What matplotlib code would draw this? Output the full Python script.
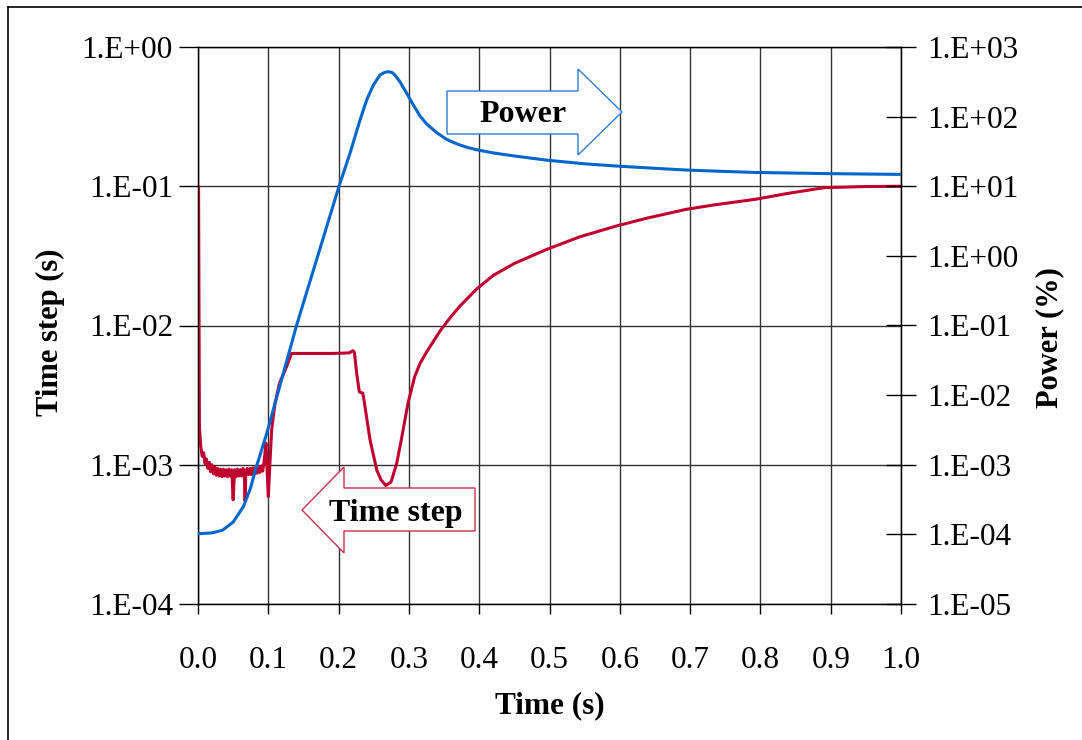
import matplotlib
matplotlib.use("Agg")
import matplotlib.pyplot as plt
from matplotlib.patches import Polygon
from matplotlib.lines import Line2D
from matplotlib.ticker import FixedLocator, FixedFormatter, NullLocator

plt.rcParams['font.family'] = ['Liberation Serif', 'DejaVu Serif']

# ---------------- data ----------------
# Time step (left axis, s)
dt_time = [0.0, 0.0008, 0.002, 0.004, 0.006, 0.008, 0.010, 0.012, 0.014, 0.016,
           0.018, 0.020, 0.022, 0.024, 0.026, 0.028, 0.030, 0.032, 0.034, 0.036,
           0.038, 0.040, 0.042, 0.044, 0.046, 0.048, 0.050, 0.052, 0.054, 0.056,
           0.058, 0.060, 0.062, 0.064, 0.066, 0.067, 0.068, 0.070, 0.072, 0.074,
           0.076, 0.078, 0.080, 0.082, 0.084, 0.086, 0.088, 0.090, 0.092, 0.094,
           0.0967, 0.098, 0.100, 0.1024, 0.1048, 0.1095, 0.116, 0.126, 0.133, 0.160,
           0.190, 0.215, 0.2205, 0.2225, 0.2257, 0.2295, 0.2343, 0.2361, 0.2447, 0.2542,
           0.2603, 0.267, 0.2745, 0.2826, 0.2892, 0.2987, 0.3082, 0.316, 0.3253, 0.3442,
           0.3585, 0.3727, 0.396, 0.420, 0.450, 0.496, 0.5434, 0.5956, 0.638, 0.694,
           0.733, 0.792, 0.840, 0.891, 0.950, 1.0]
dt_value = [1.0e-1, 1.0e-1, 1.86e-3, 1.35e-3, 1.15e-3, 1.22e-3, 1.02e-3, 1.1e-3, 9.4e-4, 1.04e-3,
            8.9e-4, 1.0e-3, 8.6e-4, 9.6e-4, 8.4e-4, 9.4e-4, 8.3e-4, 9.3e-4, 8.2e-4, 9.3e-4,
            8.3e-4, 9.2e-4, 8.2e-4, 9.3e-4, 8.3e-4, 9.2e-4, 5.6e-4, 9.2e-4, 8.2e-4, 9.3e-4,
            8.3e-4, 9.2e-4, 8.3e-4, 9.4e-4, 8.4e-4, 5.5e-4, 8.6e-4, 9.4e-4, 8.5e-4, 9.4e-4,
            8.5e-4, 9.5e-4, 8.6e-4, 9.6e-4, 8.7e-4, 9.7e-4, 8.8e-4, 9.8e-4, 9.0e-4, 1.05e-3,
            1.43e-3, 1.0e-3, 5.9e-4, 1.05e-3, 1.78e-3, 2.75e-3, 3.85e-3, 5.06e-3, 6.3e-3, 6.3e-3,
            6.3e-3, 6.35e-3, 6.6e-3, 6.4e-3, 4.54e-3, 3.33e-3, 3.27e-3, 2.92e-3, 1.51e-3, 9.2e-4,
            7.8e-4, 7.1e-4, 7.5e-4, 1.02e-3, 1.51e-3, 2.76e-3, 4.29e-3, 5.37e-3, 6.46e-3, 9.12e-3,
            1.135e-2, 1.38e-2, 1.82e-2, 2.29e-2, 2.79e-2, 3.52e-2, 4.34e-2, 5.19e-2, 5.89e-2, 6.82e-2,
            7.33e-2, 8.05e-2, 8.9e-2, 9.77e-2, 9.95e-2, 1.0e-1]

# Power (right axis, %)
p_time = [0.0, 0.020, 0.035, 0.050, 0.0645, 0.074, 0.083, 0.0977, 0.1404, 0.2006,
          0.2162, 0.2304, 0.240, 0.2494, 0.2589, 0.265, 0.2707, 0.276, 0.2802, 0.2873,
          0.2969, 0.3063, 0.3158, 0.3253, 0.3395, 0.3537, 0.363, 0.3727, 0.384, 0.396,
          0.420, 0.450, 0.496, 0.550, 0.5956, 0.650, 0.694, 0.750, 0.792, 0.891, 1.0]
p_value = [1.02e-4, 1.05e-4, 1.15e-4, 1.5e-4, 2.5e-4, 4.4e-4, 9.3e-4, 2.8e-3, 0.102, 10.0,
           29.7, 89.0, 174.0, 284.0, 396.0, 430.0, 442.0, 430.0, 396.0, 316.0,
           216.0, 147.0, 102.0, 78.3, 58.9, 47.2, 42.7, 39.1, 35.9, 33.5,
           30.1, 27.2, 23.7, 21.0, 19.5, 18.1, 17.1, 16.3, 15.8, 15.2, 14.8]

x_ticks = [0.0, 0.1, 0.2, 0.3, 0.4, 0.5, 0.6, 0.7, 0.8, 0.9, 1.0]
x_labels = ['0.0', '0.1', '0.2', '0.3', '0.4', '0.5', '0.6', '0.7', '0.8', '0.9', '1.0']
left_ticks = [1e-4, 1e-3, 1e-2, 1e-1, 1e0]
left_labels = ['1.E-04', '1.E-03', '1.E-02', '1.E-01', '1.E+00']
right_ticks = [1e-5, 1e-4, 1e-3, 1e-2, 1e-1, 1e0, 1e1, 1e2, 1e3]
right_labels = ['1.E-05', '1.E-04', '1.E-03', '1.E-02', '1.E-01', '1.E+00',
                '1.E+01', '1.E+02', '1.E+03']

RED = '#C0002E'
BLUE = '#0066CC'
W, H = 1082, 740

def fp(px, py):
    return (px / W, 1 - py / H)

# ---------------- figure ----------------
fig = plt.figure(figsize=(W / 100, H / 100), dpi=100)
ax = fig.add_axes([198 / W, 1 - 604 / H, 703 / W, 557 / H])
ax.set_yscale('log')
ax.set_xlim(0, 1)
ax.set_ylim(1e-4, 1e0)
ax.plot(dt_time, dt_value, color=RED, lw=2.2, solid_joinstyle='round', zorder=3)

ax.xaxis.set_major_locator(FixedLocator(x_ticks))
ax.xaxis.set_major_formatter(FixedFormatter(x_labels))
ax.yaxis.set_major_locator(FixedLocator(left_ticks))
ax.yaxis.set_major_formatter(FixedFormatter(left_labels))
ax.yaxis.set_minor_locator(NullLocator())
ax.grid(True, which='major', color='#333333', lw=1.0)
ax.tick_params(axis='y', direction='out', length=14, width=1, pad=4, labelsize=22.5)
ax.tick_params(axis='x', direction='out', length=7, width=1, pad=23, labelsize=22.5)
for s in ax.spines.values():
    s.set_linewidth(1.0)

ax2 = ax.twinx()
ax2.set_yscale('log')
ax2.set_ylim(1e-5, 1e3)
ax2.plot(p_time, p_value, color=BLUE, lw=2.2, solid_joinstyle='round', zorder=3)
ax2.yaxis.set_major_locator(FixedLocator(right_ticks))
ax2.yaxis.set_major_formatter(FixedFormatter(right_labels))
ax2.yaxis.set_minor_locator(NullLocator())
ax2.tick_params(axis='y', direction='inout', length=22, width=1, pad=8, labelsize=22.5)

ax.set_xlabel('Time (s)', fontsize=22.5, fontweight='bold')
ax.xaxis.set_label_coords(0.5007, -0.183)
ax.xaxis.label.set_verticalalignment('center')
ax.set_ylabel('Time step (s)', fontsize=22, fontweight='bold')
ax.yaxis.set_label_coords(-0.2105, 0.487)
ax.yaxis.label.set_verticalalignment('center')
ax2.set_ylabel('Power (%)', fontsize=22, fontweight='bold')
ax2.yaxis.set_label_coords(1.212, 0.478)
ax2.yaxis.label.set_verticalalignment('center')

# ---------------- annotation arrows ----------------
power_arrow = [fp(447, 91), fp(578, 91), fp(578, 69), fp(622, 112),
               fp(578, 155), fp(578, 134), fp(447, 134)]
fig.add_artist(Polygon(power_arrow, closed=True, transform=fig.transFigure,
                       facecolor='white', edgecolor='#2A7FD4', lw=1.0, zorder=5))
fig.text(*fp(523, 115), 'Power', ha='center', va='center', fontsize=23,
         fontweight='bold', zorder=6)

ts_arrow = [fp(302, 510), fp(344, 467), fp(344, 488), fp(475, 488),
            fp(475, 531), fp(344, 531), fp(344, 553)]
fig.add_artist(Polygon(ts_arrow, closed=True, transform=fig.transFigure,
                       facecolor='white', edgecolor='#C8304A', lw=1.0, zorder=5))
fig.text(*fp(396, 513), 'Time step', ha='center', va='center', fontsize=23,
         fontweight='bold', zorder=6)

# outer frame (top and left edges visible)
fig.add_artist(Line2D([8 / W, 1.0], [1 - 7 / H, 1 - 7 / H], transform=fig.transFigure,
                      color='black', lw=1.2))
fig.add_artist(Line2D([8 / W, 8 / W], [0.0, 1 - 7 / H], transform=fig.transFigure,
                      color='black', lw=1.2))

fig.savefig('out.png', dpi=100)
